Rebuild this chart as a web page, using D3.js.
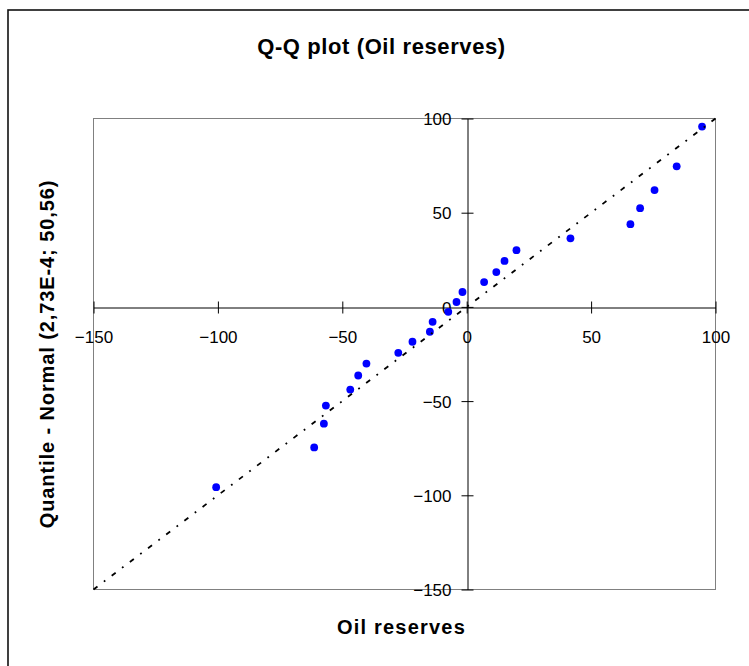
<!DOCTYPE html>
<html>
<head>
<meta charset="utf-8">
<script src="https://cdn.jsdelivr.net/npm/d3@7"></script>
<style>
  html, body { margin: 0; padding: 0; background: #fff; }
  svg { display: block; }
  text { font-family: "Liberation Sans", Arial, sans-serif; fill: #000; }
</style>
</head>
<body>
<svg id="chart" width="749" height="666"></svg>
<script>
// ---- data ----
const chartTitle = "Q-Q plot (Oil reserves)";
const xTitle = "Oil reserves";
const yTitle = "Quantile - Normal (2,73E-4; 50,56)";
const xTicks = [-150, -100, -50, 0, 50, 100];
const yTicks = [-150, -100, -50, 0, 50, 100];
const xValues = [94.6, 84.4, 75.5, 69.7, 65.8, 41.7, 20.0, 15.2, 11.9, 7.0, -1.7, -4.1,
                 -7.4, -13.7, -14.8, -21.8, -27.5, -40.3, -43.6, -46.8, -56.6, -57.4, -61.3, -100.7];
const yValues = [95.7, 74.6, 62.0, 52.4, 43.9, 36.4, 30.1, 24.4, 18.5, 13.2, 7.9, 2.6,
                 -2.6, -7.9, -13.2, -18.5, -24.4, -30.1, -36.4, -43.9, -52.4, -62.0, -74.6, -95.7];
const refLine = [[-150, -150], [100, 100]];

// ---- layout ----
const svg = d3.select("#chart");
const L = 93.5, R = 715.5, T = 118.5, B = 589.5;
const x = d3.scaleLinear().domain([-150, 100]).range([L, R]);
const y = d3.scaleLinear().domain([-150, 100]).range([B, T]);

// outer chart frame (extends past the viewport)
svg.append("rect").attr("x", 8).attr("y", 10).attr("width", 900).attr("height", 800)
  .attr("fill", "none").attr("stroke", "#111").attr("stroke-width", 1.6);

// plot area border
svg.append("rect").attr("x", L).attr("y", T).attr("width", R - L).attr("height", B - T)
  .attr("fill", "none").attr("stroke", "#808080").attr("stroke-width", 1);

const x0 = Math.round(x(0)) + 0.5;
const y0 = Math.round(y(0)) + 0.5;

// x axis
const xAxis = svg.append("g").attr("transform", `translate(0,${y0})`)
  .call(d3.axisBottom(x).tickValues(xTicks).tickSize(6).tickSizeOuter(0).tickFormat(d3.format("d")));
xAxis.select(".domain").attr("stroke", "#000");
xAxis.selectAll(".tick line").attr("y1", -6).attr("y2", 6).attr("stroke", "#000");
xAxis.selectAll(".tick text").attr("y", 35).attr("dy", 0)
  .style("font-family", '"Liberation Sans", Arial, sans-serif').style("font-size", "17px").attr("fill", "#000");

// y axis
const yAxis = svg.append("g").attr("transform", `translate(${x0},0)`)
  .call(d3.axisLeft(y).tickValues(yTicks).tickSize(6).tickSizeOuter(0).tickFormat(d3.format("d")));
yAxis.select(".domain").attr("stroke", "#000");
yAxis.selectAll(".tick line").attr("x1", -6).attr("x2", 6).attr("stroke", "#000");
yAxis.selectAll(".tick text").attr("x", -16).attr("dy", "0.36em")
  .style("font-family", '"Liberation Sans", Arial, sans-serif').style("font-size", "17px").attr("fill", "#000");

// points
svg.append("g").selectAll("circle")
  .data(xValues.map((v, i) => [v, yValues[i]]))
  .join("circle")
  .attr("cx", d => x(d[0])).attr("cy", d => y(d[1])).attr("r", 3.9)
  .attr("fill", "#0000ff");

// reference line y = x
svg.append("path")
  .attr("d", d3.line().x(d => x(d[0])).y(d => y(d[1]))(refLine))
  .attr("fill", "none").attr("stroke", "#000").attr("stroke-width", 1.8)
  .attr("stroke-dasharray", "5,8,1.8,8");

// titles
svg.append("text").attr("x", 381.5).attr("y", 53.5).attr("text-anchor", "middle")
  .style("font-size", "22px").style("font-weight", "bold").style("letter-spacing", "0.6px")
  .text(chartTitle);
svg.append("text").attr("x", 401.5).attr("y", 634).attr("text-anchor", "middle")
  .style("font-size", "20px").style("font-weight", "bold").style("letter-spacing", "1.2px")
  .text(xTitle);
svg.append("text").attr("transform", `translate(54,${(T + B) / 2}) rotate(-90)`)
  .attr("text-anchor", "middle")
  .style("font-size", "20px").style("font-weight", "bold").style("letter-spacing", "0.9px")
  .text(yTitle);
</script>
</body>
</html>
